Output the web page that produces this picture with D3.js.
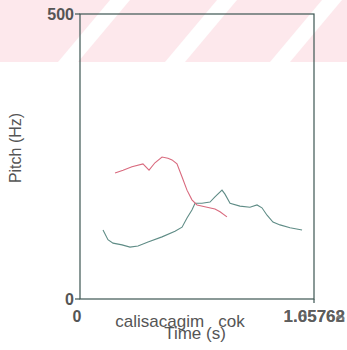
<!DOCTYPE html>
<html>
<head>
<meta charset="utf-8">
<script src="https://cdn.jsdelivr.net/npm/d3@7"></script>
<style>
  body { margin: 0; background: #fff; }
  text { font-family: "Liberation Sans", Arial, sans-serif; fill: #555; }
</style>
</head>
<body>
<svg id="chart" width="347" height="350"></svg>
<script>
// time (s) / pitch (Hz)
const redTime  = [0.248, 0.305, 0.368, 0.446, 0.489, 0.531, 0.581, 0.623, 0.652, 0.687, 0.723, 0.758, 0.793, 0.829, 0.900, 0.956, 0.992, 1.041];
const redPitch = [221, 226, 232, 237, 226, 239, 249, 247, 244, 237, 214, 191, 174, 165, 161, 158, 153, 144];
const greenTime  = [0.163, 0.198, 0.234, 0.298, 0.354, 0.411, 0.482, 0.581, 0.673, 0.723, 0.758, 0.793, 0.815, 0.864, 0.921, 0.956, 1.006, 1.027, 1.063, 1.133, 1.204, 1.254, 1.289, 1.325, 1.367, 1.417, 1.488, 1.573];
const greenPitch = [121, 104, 98, 95, 91, 93, 100, 109, 119, 126, 142, 156, 168, 168, 170, 179, 191, 184, 168, 163, 161, 165, 160, 147, 135, 130, 125, 121];
const xTicks = [0, 1.65768];
const yTicks = [0, 500];
const words = "calisacagim   cok";

const svg = d3.select("#chart");
const W = 347, H = 350;
const mLeft = 80, mRight = 314, mTop = 14, mBottom = 299;

// faint red watermark band across the top
const band = svg.append("g");
band.append("rect").attr("width", W).attr("height", 62).attr("fill", "#fde8ec");
[58, 165, 270, 370].forEach(x0 => {
  band.append("path")
    .attr("d", `M${x0},62 L${x0 + 20},62 L${x0 + 72},0 L${x0 + 52},0 Z`)
    .attr("fill", "#fff");
});

const x = d3.scaleLinear().domain([0, 1.65768]).range([mLeft, mRight]);
const y = d3.scaleLinear().domain([0, 500]).range([mBottom, mTop]);

svg.append("rect")
  .attr("x", mLeft).attr("y", mTop)
  .attr("width", mRight - mLeft).attr("height", mBottom - mTop)
  .attr("fill", "none").attr("stroke", "#3d5552").attr("stroke-width", 1.2);

// ticks
yTicks.forEach(v => {
  svg.append("line").attr("x1", mLeft - 5).attr("x2", mLeft).attr("y1", y(v)).attr("y2", y(v))
    .attr("stroke", "#3d5552").attr("stroke-width", 1.2);
  svg.append("text").attr("x", mLeft - 6).attr("y", y(v) + 6)
    .attr("text-anchor", "end").attr("font-size", 16).attr("font-weight", "bold").text(v);
});
svg.append("line").attr("x1", x(xTicks[1])).attr("x2", x(xTicks[1])).attr("y1", mBottom).attr("y2", mBottom + 4)
  .attr("stroke", "#3d5552").attr("stroke-width", 1.2);
svg.append("text").attr("x", x(0) - 3).attr("y", 322)
  .attr("text-anchor", "middle").attr("font-size", 16).attr("font-weight", "bold").text("0");
// overprinted end label
["1.65768", "1.05762"].forEach(s => {
  svg.append("text").attr("x", 345).attr("y", 322)
    .attr("text-anchor", "end").attr("font-size", 17).attr("font-weight", "bold")
    .attr("fill-opacity", 0.8).text(s);
});

svg.append("text").attr("x", 180).attr("y", 327).attr("text-anchor", "middle")
  .attr("font-size", 17).attr("xml:space", "preserve").style("white-space", "pre").text(words);
svg.append("text").attr("x", 195).attr("y", 339).attr("text-anchor", "middle")
  .attr("font-size", 17).text("Time (s)");
svg.append("text").attr("transform", "translate(21,148) rotate(-90)").attr("text-anchor", "middle")
  .attr("font-size", 16).text("Pitch (Hz)");

const line = d3.line().x(d => x(d[0])).y(d => y(d[1]));
svg.append("path").datum(d3.zip(greenTime, greenPitch))
  .attr("d", line).attr("fill", "none").attr("stroke", "#5f8c86").attr("stroke-width", 1.1);
svg.append("path").datum(d3.zip(redTime, redPitch))
  .attr("d", line).attr("fill", "none").attr("stroke", "#d96a7e").attr("stroke-width", 1.1);
</script>
</body>
</html>
